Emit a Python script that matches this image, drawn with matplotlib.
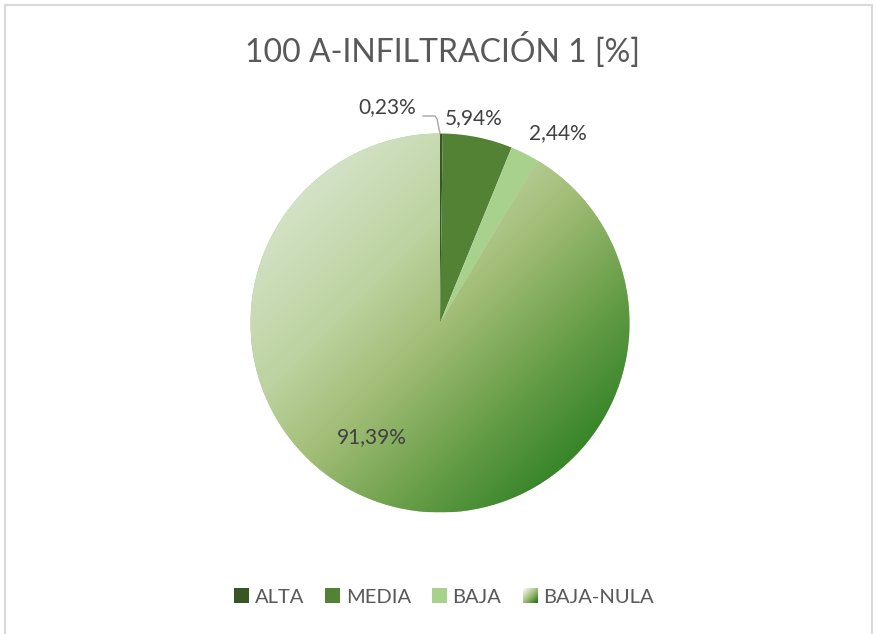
import matplotlib
matplotlib.use('Agg')
import matplotlib.pyplot as plt
import numpy as np
from matplotlib.colors import LinearSegmentedColormap
from matplotlib.patches import Patch, Rectangle

categories = ["ALTA", "MEDIA", "BAJA", "BAJA-NULA"]
values = [0.23, 5.94, 2.44, 91.39]
colors = ["#375623", "#548235", "#a9d18e", "#a5c07a"]

# label offsets (x, y) from the pie centre, in units of radius
label_pos = [(-0.28, 1.14), (0.18, 1.08), (0.62, 1.00), (-0.36, -0.60)]

grad = LinearSegmentedColormap.from_list(
    "bajanula", [(0.0, "#d3e2c6"), (0.3, "#bcd29f"), (0.5, "#a3be78"),
                 (0.75, "#6ea14c"), (1.0, "#38852a")])

W, H = 877, 634
fig = plt.figure(figsize=(W / 100, H / 100), dpi=100, facecolor="white")
ax = fig.add_axes([0, 0, 1, 1])

cx, cy, r = 440, H - 323, 189.5

wedges, _ = ax.pie(values, colors=colors, startangle=90, counterclock=False,
                   center=(cx, cy), radius=r, frame=True,
                   wedgeprops=dict(linewidth=0))

# gradient fill of the big slice, light top-left to dark bottom-right
n = 400
xs = np.linspace(-1, 1, n)
gx, gy = np.meshgrid(xs, xs)
t = np.clip(((gx + gy) / np.sqrt(2) + 1) / 2, 0, 1)  # rows run top->bottom
im = ax.imshow(t, cmap=grad, vmin=0, vmax=1, extent=(cx - r, cx + r, cy - r, cy + r),
               origin='upper', interpolation='bilinear', zorder=wedges[3].get_zorder() + 0.1)
im.set_clip_path(wedges[3])
ax.set_aspect('auto')
ax.set_xlim(0, W)
ax.set_ylim(0, H)
ax.axis('off')

txt_color = "#404040"
fam = ["Lato", "DejaVu Sans"]
for v, (lx, ly) in zip(values, label_pos):
    s = f"{v:.2f}".replace('.', ',') + "%"
    ax.text(cx + lx * r, cy + ly * r, s, ha='center', va='center',
            fontsize=15, color=txt_color, family=fam)

# leader line for the thin ALTA slice
ax.plot([cx - 17, cx - 5, cx - 3, cx], [H - 116, H - 116, H - 119, cy + r],
        color="#a6a6a6", linewidth=1.0)

ax.text(W / 2 + 4, H - 50, "100 A-INFILTRACIÓN 1 [%]", ha='center', va='center',
        fontsize=23, color="#595959", family=fam)

handles = [Patch(facecolor=c, edgecolor='none') for c in colors]
leg = ax.legend(handles, categories, loc='center', bbox_to_anchor=(444 / W, 1 - 597 / H),
                ncol=4, frameon=False, handlelength=0.72, handleheight=0.72,
                handletextpad=0.3, columnspacing=1.05, prop=dict(family=fam, size=14.5))
for t_ in leg.get_texts():
    t_.set_color("#595959")

# gradient swatch for the BAJA-NULA legend entry
fig.canvas.draw()
bb = leg.legend_handles[3].get_window_extent()
sw = np.linspace(0, 1, 50)
sx, sy = np.meshgrid(sw, sw)
ts = (sx + sy) / 2.0
inv = ax.transData.inverted()
(x0, y0), (x1, y1) = inv.transform([(bb.x0, bb.y0), (bb.x1, bb.y1)])
ax.imshow(ts, cmap=LinearSegmentedColormap.from_list("sw", ["#ffffff", "#a3be78", "#1f6e12"]),
          extent=(x0, x1, y0, y1), origin='upper', zorder=10)
ax.set_aspect('auto')
ax.set_xlim(0, W)
ax.set_ylim(0, H)

# chart border
ax.add_patch(Rectangle((4.5, -5), W - 9.5, H - 4.5 + 5, fill=False,
                       edgecolor="#d9d9d9", linewidth=1.5, zorder=20))

fig.savefig("out.png", dpi=100, facecolor="white")
